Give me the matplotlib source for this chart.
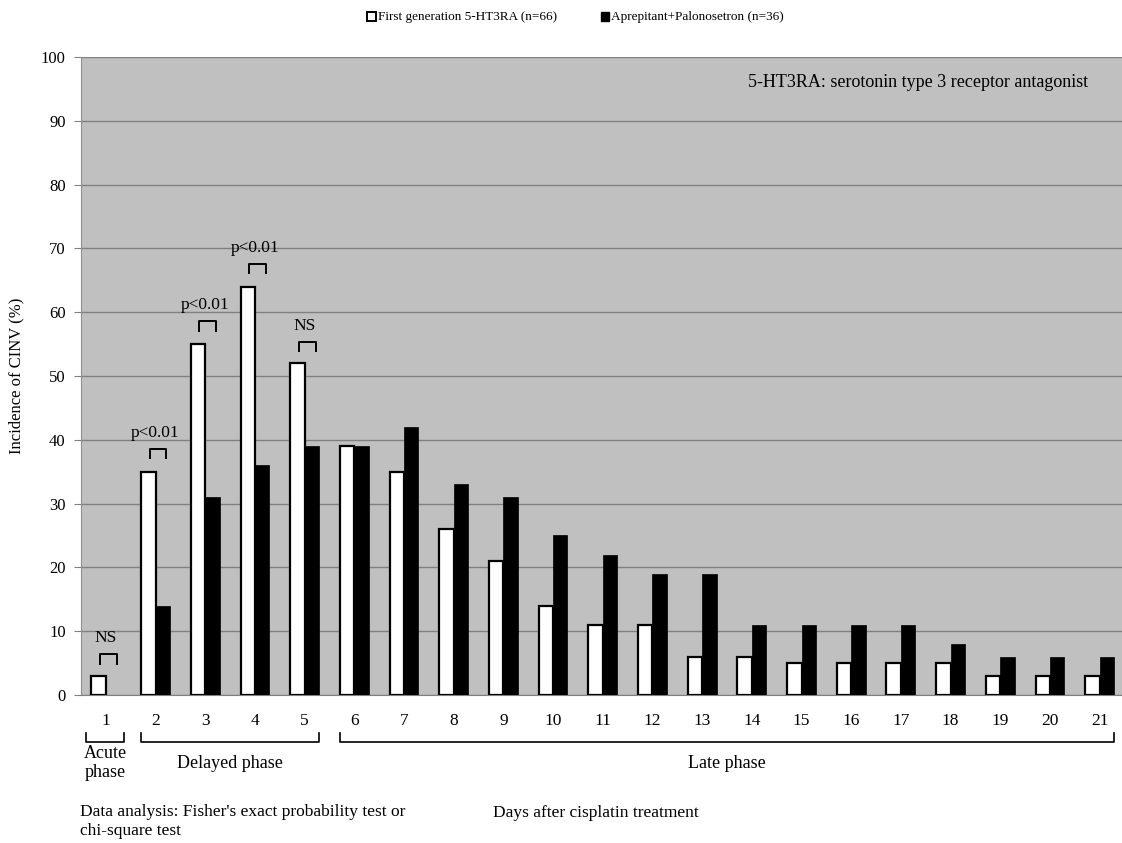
import numpy as np
import matplotlib.pyplot as plt

plt.rcParams['font.family'] = ['Liberation Serif', 'DejaVu Serif']

days = list(range(1, 22))
first_gen = [3, 35, 55, 64, 52, 39, 35, 26, 21, 14, 11, 11, 6, 6, 5, 5, 5, 5, 3, 3, 3]
aprep_palo = [0, 14, 31, 36, 39, 39, 42, 33, 31, 25, 22, 19, 19, 11, 11, 11, 11, 8, 6, 6, 6]

sig_days = [1, 2, 3, 4, 5]
sig_labels = ['NS', 'p<0.01', 'p<0.01', 'p<0.01', 'NS']

phases = [('Acute\nphase', 1, 1), ('Delayed phase', 2, 5), ('Late phase', 6, 21)]

fig = plt.figure(figsize=(11.22, 8.43), dpi=100)
ax = fig.add_axes([0.0722, 0.1756, 0.9278, 0.7568])
ax.set_facecolor('#c0c0c0')

x = np.array(days)
w = 0.29
ax.bar(x - w/2, first_gen, w, color='white', edgecolor='black', linewidth=1.6, zorder=3)
ax.bar(x + w/2, aprep_palo, w, color='black', edgecolor='black', linewidth=0.5, zorder=3)

ax.set_xlim(0.5, 21.45)
ax.set_ylim(0, 100)
ax.set_yticks(range(0, 101, 10))
ax.yaxis.grid(True, color='#808080', linewidth=1.0, zorder=1)
ax.tick_params(axis='y', length=5, color='#808080', labelsize=12, pad=6)
ax.set_xticks(days)
ax.tick_params(axis='x', length=0, labelsize=12.5, pad=13)
for s in ['top', 'right']:
    ax.spines[s].set_visible(False)
ax.spines['bottom'].set_color('#808080')
ax.spines['left'].set_color('#909090')
ax.set_ylabel('Incidence of CINV (%)', fontsize=12, labelpad=12)

# significance brackets
for d, lab in zip(sig_days, sig_labels):
    top = max(first_gen[d-1], aprep_palo[d-1]) + 3.6
    if d == 5 or d == 1:
        top = first_gen[d-1] + 3.4
    x0, x1 = d - 0.12, d + 0.22
    ax.plot([x0, x0, x1, x1], [top - 1.5, top, top, top - 1.5], color='black', lw=1.4, zorder=4)
    ax.text((x0 + x1) / 2 - 0.05, top + 1.2, lab, ha='center', va='bottom', fontsize=12.5, zorder=4)

ax.text(0.967, 0.96, '5-HT3RA: serotonin type 3 receptor antagonist', transform=ax.transAxes,
        ha='right', va='center', fontsize=13)

# phase brackets under the axis
tr = ax.get_xaxis_transform()
for name, a, b in phases:
    if a == b:
        x0, x1 = a - 0.4, b + 0.37
    else:
        x0, x1 = a - 0.29, b + 0.28
    ax.plot([x0, x0, x1, x1], [-0.06, -0.074, -0.074, -0.06], color='black', lw=1.2,
            transform=tr, clip_on=False)
    ax.text((x0 + x1) / 2, -0.107, name, transform=tr, ha='center', va='center', fontsize=13,
            linespacing=1.15)

fig.text(0.0713, 0.026, "Data analysis: Fisher's exact probability test or\nchi-square test",
         ha='left', va='center', fontsize=12.5, linespacing=1.25)
fig.text(0.439, 0.0356, 'Days after cisplatin treatment', ha='left', va='center', fontsize=12.5)

# legend
fig.patches.append(plt.Rectangle((0.3275, 0.975), 0.0075, 0.0105, transform=fig.transFigure,
                                 facecolor='white', edgecolor='black', lw=1.4))
fig.text(0.337, 0.98, 'First generation 5-HT3RA (n=66)', ha='left', va='center', fontsize=9.5)
fig.patches.append(plt.Rectangle((0.5355, 0.975), 0.0075, 0.0105, transform=fig.transFigure,
                                 facecolor='black', edgecolor='black', lw=1.0))
fig.text(0.545, 0.98, 'Aprepitant+Palonosetron (n=36)', ha='left', va='center', fontsize=9.5)

fig.savefig('out.png', dpi=100)
